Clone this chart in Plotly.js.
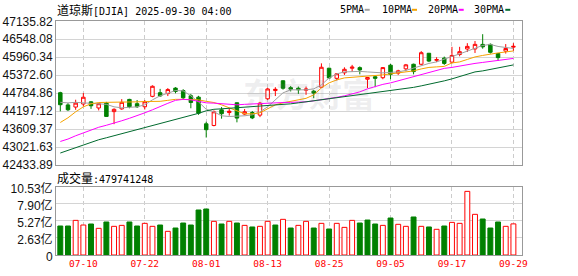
<!DOCTYPE html>
<html><head><meta charset="utf-8">
<script src="https://cdn.plot.ly/plotly-3.0.1.min.js"></script>
<style>html,body{margin:0;padding:0;background:#fff}#c{width:578px;height:276px}</style>
</head><body><div id="c"></div>
<script>
const dates = ['07-07','07-08','07-09','07-10','07-11','07-14','07-15','07-16','07-17','07-18','07-21','07-22','07-23','07-24','07-25','07-28','07-29','07-30','07-31','08-01','08-04','08-05','08-06','08-07','08-08','08-11','08-12','08-13','08-14','08-15','08-18','08-19','08-20','08-21','08-22','08-25','08-26','08-27','08-28','08-29','09-02','09-03','09-04','09-05','09-08','09-09','09-10','09-11','09-12','09-15','09-16','09-17','09-18','09-19','09-22','09-23','09-24','09-25','09-26','09-29'];
const openP = [44800,44400,44330,44430,44500,44300,44460,44180,44270,44580,44440,44340,44680,44800,44770,44950,44870,44700,44654,43782,43727,44239,44150,44470,44100,44150,44066,44600,44870,45190,44964,44945,44880,44850,44980,45600,45270,45450,45600,45620,45240,45320,45290,45700,45440,45580,45730,45730,46090,45860,45930,45800,46050,46230,46230,46380,46380,46080,46160,46290];
const highP = [44830,44460,44570,44790,44520,44470,44500,44290,44590,44600,44560,44560,45040,44925,44950,44980,44915,44760,44697,43850,44220,44330,44290,44480,44265,44200,44500,44960,44980,45203,45020,45000,45000,44890,45760,45620,45440,45630,45710,45660,45310,45340,45640,45740,45550,45740,45750,46160,46100,45960,45980,46300,46300,46420,46490,46714,46410,46100,46390,46420];
const lowP = [44190,44200,44240,44350,44270,44220,44010,43770,44240,44290,44300,44250,44650,44670,44690,44780,44566,44290,44076,43332,43700,43950,44050,43830,44060,43935,44000,44560,44690,44900,44840,44760,44730,44620,44950,45270,45200,45380,45480,45400,44950,44980,45240,45240,45380,45500,45400,45700,45800,45800,45710,45760,45990,46130,46100,46240,46080,45840,46080,46170];
const closeP = [44406,44241,44458,44651,44372,44440,44023,44255,44484,44342,44340,44502,45010,44694,44902,44838,44633,44480,44131,43589,44174,44112,44193,43969,44176,43975,44459,44922,44911,44946,44915,44895,44920,44786,45632,45282,45418,45565,45637,45545,45296,45271,45621,45401,45515,45711,45490,46108,45834,45883,45758,46018,46142,46315,46381,46300,46121,45947,46247,46316];
const ma5 = [44484,44468,44484,44468,44458,44435,44419,44337,44305,44321,44337,44403,44566,44697,44785,44870,44860,44697,44501,44256,44174,44044,44021,44021,44044,44076,44174,44337,44566,44795,44893,44893,44893,44925,45056,45284,45415,45480,45497,45497,45480,45464,45448,45464,45480,45529,45611,45692,45758,45807,45905,45986,46068,46166,46264,46346,46378,46313,46280,46248];
const ma10 = [43825,43978,44174,44337,44435,44478,44484,44484,44484,44501,44501,44511,44511,44517,44550,44582,44582,44582,44566,44517,44478,44403,44305,44207,44109,44109,44141,44272,44403,44468,44511,44566,44615,44729,44958,45121,45219,45284,45301,45317,45333,45366,45382,45415,45448,45480,45513,45578,45627,45644,45660,45774,45807,45888,45970,46019,46068,46101,46133,46166];
const ma20 = [43204,43283,43391,43488,43587,43668,43734,43799,43881,43962,44044,44141,44240,44354,44452,44550,44582,44566,44517,44468,44458,44435,44403,44403,44419,44435,44452,44468,44478,44478,44484,44484,44501,44533,44566,44599,44648,44697,44762,44827,44925,45007,45072,45121,45187,45252,45317,45382,45464,45529,45595,45627,45676,45709,45758,45790,45823,45856,45888,45921];
const ma30 = [42826,42917,42999,43097,43178,43260,43325,43391,43456,43521,43587,43652,43717,43782,43848,43913,43978,44044,44125,44207,44256,44272,44289,44305,44321,44337,44354,44370,44386,44419,44435,44468,44501,44533,44566,44599,44648,44680,44713,44746,44778,44811,44827,44860,44909,44942,44974,45023,45072,45121,45187,45252,45333,45415,45480,45513,45562,45611,45660,45709];
const volume = [4.47,4.47,5.34,4.62,4.78,4.11,5.09,4.42,4.57,5.09,4.47,4.88,4.42,4.62,3.65,4.16,4.93,4.62,6.94,7.09,5.19,4.78,5.19,4.93,4.57,4.32,4.42,5.19,4.62,5.50,4.16,4.57,5.19,4.16,4.88,4.01,4.88,4.26,5.34,4.93,5.39,4.78,4.57,5.70,4.73,4.42,5.86,4.42,4.32,3.96,4.47,5.03,4.88,9.81,6.27,5.55,4.16,5.09,4.42,4.797];
const volUp = [0,0,1,1,0,1,0,1,1,0,0,1,1,0,1,0,0,0,0,0,1,0,1,0,1,0,1,1,0,1,0,1,1,0,1,0,1,1,1,0,0,0,1,0,1,1,0,1,0,1,0,1,1,1,1,0,0,0,1,1];
const tickDates = ['07-10','07-22','08-01','08-13','08-25','09-05','09-17','09-29'];
const priceTicks = [42433.89,43021.63,43609.37,44197.12,44784.86,45372.60,45960.34,46548.08,47135.82];
const volTicks = [0,2.6325,5.265,7.8975,10.53];
const volTickText = ['0','2.63亿','5.27亿','7.90亿','10.53亿'];
const lastVolume = '479741248';
const maNames = ['5PMA','10PMA','20PMA','30PMA'];

const RED='#ff0000', GREEN='#008000';
const maColors=['#a0a0a0','#f5a300','#ff00ff','#006a2e'];
const W=578,H=276;
const px=x=>x/W, py=y=>(H-y)/H;
const mono='DejaVu Sans Mono, Noto Sans CJK SC';
const cjk='font-family:Noto Sans CJK SC;font-size:12px';

const traces=[];
traces.push({type:'candlestick',x:dates,open:openP,high:highP,low:lowP,close:closeP,xaxis:'x',yaxis:'y',
  increasing:{line:{color:RED,width:1},fillcolor:'#ffffff'},
  decreasing:{line:{color:GREEN,width:1},fillcolor:GREEN},
  whiskerwidth:0,hoverinfo:'skip',showlegend:false});
[ma5,ma10,ma20,ma30].forEach((m,i)=>traces.push({type:'scatter',mode:'lines',x:dates,y:m,xaxis:'x',yaxis:'y',
  line:{color:maColors[i],width:1},hoverinfo:'skip',showlegend:false}));
traces.push({type:'bar',x:dates,y:volume,xaxis:'x2',yaxis:'y2',width:0.64,
  marker:{color:volUp.map(u=>u?'#ffffff':GREEN),line:{color:volUp.map(u=>u?RED:GREEN),width:1}},
  hoverinfo:'skip',showlegend:false});

const dom=[px(56),px(522)];
const xr=[-0.56,60.12];
const common={type:'category',range:xr,domain:dom,tickmode:'array',tickvals:tickDates,
  showgrid:true,gridcolor:'#cccccc',griddash:'4px,3px',gridwidth:1,
  showline:true,mirror:true,linecolor:'#999999',linewidth:1,ticks:'',zeroline:false,fixedrange:true};

const annotations=[
  {xref:'paper',yref:'paper',x:px(55),y:py(9.5),xanchor:'left',yanchor:'middle',showarrow:false,
   text:'<span style="'+cjk+'">道琼斯</span>[DJIA] 2025-09-30 04:00',font:{family:mono,size:10,color:'#000'}},
  {xref:'paper',yref:'paper',x:px(55),y:py(177.7),xanchor:'left',yanchor:'middle',showarrow:false,
   text:'<span style="'+cjk+'">成交量</span>:'+lastVolume,font:{family:mono,size:10,color:'#000'}},
  {xref:'paper',yref:'paper',x:px(309),y:py(93),xanchor:'center',yanchor:'middle',showarrow:false,
   text:'<b>东方财富</b>',font:{family:'Noto Sans CJK SC',size:33,color:'rgba(120,120,130,0.13)'}}
];
const legX=[338,380,425.5,471.5], dashX=[364.7,412,458.7,505.3];
const shapes=[];
maNames.forEach((n,i)=>{
  annotations.push({xref:'paper',yref:'paper',x:px(legX[i]),y:py(9.5),xanchor:'left',yanchor:'middle',showarrow:false,
    text:n,font:{family:mono,size:10,color:'#000'}});
  shapes.push({type:'line',xref:'paper',yref:'paper',x0:px(dashX[i]),x1:px(dashX[i]+5),y0:py(9.8),y1:py(9.8),
    line:{color:maColors[i],width:2}});
});

const layout={width:W,height:H,margin:{l:0,r:0,t:0,b:0},paper_bgcolor:'#fff',plot_bgcolor:'#fff',
  showlegend:false,hovermode:false,boxgap:0.35,
  font:{family:'Liberation Sans, Noto Sans CJK SC',size:12,color:'#000'},
  xaxis:Object.assign({},common,{anchor:'y',showticklabels:false,rangeslider:{visible:false}}),
  xaxis2:Object.assign({},common,{anchor:'y2',showticklabels:true,
    tickfont:{family:mono,size:9.5,color:RED}}),
  yaxis:{domain:[py(165),py(21.3)],range:[42433.89,47135.82],tickmode:'array',tickvals:priceTicks,
    ticktext:priceTicks.map(v=>v.toFixed(2)),showgrid:true,gridcolor:'#d4d4d4',
    showline:true,mirror:true,linecolor:'#999999',ticks:'',zeroline:false,
    tickfont:{family:'Liberation Sans',size:12,color:'#111'},fixedrange:true},
  yaxis2:{domain:[py(255),py(186.7)],range:[0,10.53],tickmode:'array',tickvals:volTicks,ticktext:volTickText,
    showgrid:true,gridcolor:'#d4d4d4',showline:true,mirror:true,linecolor:'#999999',ticks:'',zeroline:false,
    ticklabelshift:2,tickfont:{family:'Liberation Sans, Noto Sans CJK SC',size:12,color:'#111'},fixedrange:true},
  annotations,shapes};
Plotly.newPlot('c',traces,layout,{staticPlot:true,displayModeBar:false});
</script></body></html>
